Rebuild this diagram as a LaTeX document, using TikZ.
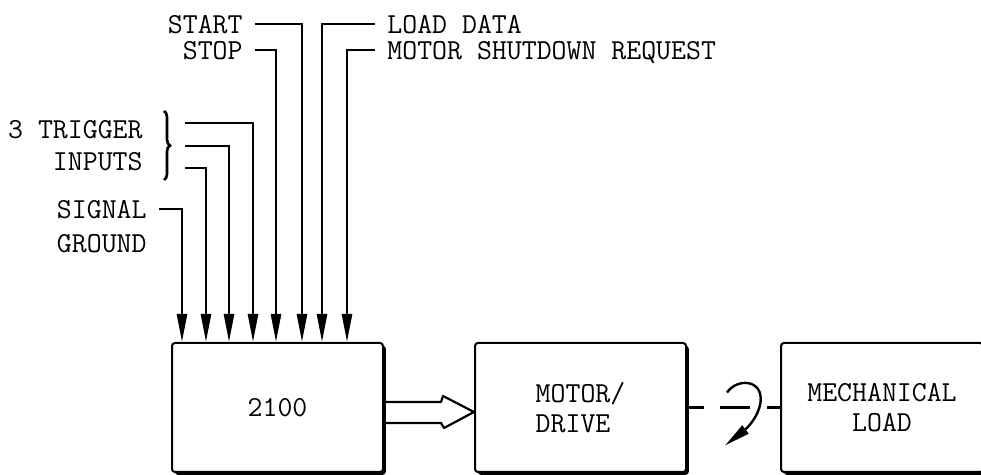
\documentclass[tikz,border=0pt]{standalone}
\usetikzlibrary{arrows.meta,positioning,shadows,calc,decorations.pathreplacing}
\newcommand{\tyfont}{\fontsize{14.5}{15}\selectfont\ttfamily}

\begin{document}
\begin{tikzpicture}[x=0.5pt,y=-0.5pt,
    blk/.style={draw,line width=1pt,fill=white,rounded corners=1.5pt,
      minimum width=105.5pt,minimum height=64.5pt,font=\tyfont,
      drop shadow={shadow xshift=1.4pt,shadow yshift=-1.4pt,opacity=1,fill=black}},
    lbl/.style={font=\tyfont,inner xsep=6pt,inner ysep=0pt,text depth=0pt},
    wire/.style={line width=1.3pt},
    sig/.style={wire,-{Triangle[length=14pt,width=5pt]}}]
  \useasboundingbox (0,0) rectangle (981,475);

  % blocks
  \node[blk] (ctrl) at (277.5,407.5) {2100};
  \node[blk,align=left,right=45pt of ctrl] (motor) {MOTOR/\\DRIVE};
  \node[blk,align=center,minimum width=101pt,right=46.5pt of motor] (mech) {MECHANICAL\\LOAD};

  % entry points on top of the 2100
  \foreach \nm/\px in {gnd/11,tc/35,tb/58,ta/82,stop/105,start/131,load/151,shut/176}
    \coordinate (in-\nm) at ($(ctrl.north west)+(\px,0)$);

  % labels
  \node[lbl,anchor=east] (start) at (255,24) {START};
  \node[lbl,anchor=east] (stop) at (255,50) {STOP};
  \node[lbl,anchor=west] (load) at (375,24) {LOAD DATA};
  \node[lbl,anchor=west] (shut) at (375,50) {MOTOR SHUTDOWN REQUEST};
  \node[lbl,anchor=east] (trig) at (155,129) {3 TRIGGER};
  \node[lbl,anchor=east] (inp) at (155,161) {INPUTS};
  \node[lbl,anchor=east] (gnd) at (159,209) {SIGNAL};
  \node[lbl,anchor=east] (gnd2) at (159,243) {GROUND};

  % brace and trigger lines
  \coordinate (br-top) at (164,111);
  \coordinate (br-bot) at (164,180);
  \draw[wire,decorate,decoration={brace,amplitude=3pt}] (br-top) -- (br-bot);
  \foreach \i/\y/\nm in {1/123/ta,2/146/tb,3/168/tc}{
    \coordinate (tg\i) at (185,\y);
    \draw[sig] (tg\i) -| (in-\nm);
  }

  % inputs
  \draw[sig] (gnd.east) -| (in-gnd);
  \draw[sig] (stop.east) -| (in-stop);
  \draw[sig] (start.east) -| (in-start);
  \draw[sig] (load.west) -| (in-load);
  \draw[sig] (shut.west) -| (in-shut);

  % hollow arrow
  \draw[line width=1.1pt,line join=round] ($(ctrl.east)+(0,-5.5)$) -- ++(57,0) -- ++(2,-6)
    -- ($(motor.west)+(0,4.5)$) -- ++(-30,16) -- ++(-3,-5) -- ($(ctrl.east)+(0,15.5)$);

  % shaft with rotation arrow
  \coordinate (rot) at ($(motor.east)!0.5!(mech.west)$);
  \draw[wire] (motor.east) -- ++(17,0);
  \draw[wire] ($(rot)+(-13.5,0)$) -- ++(30,0);
  \draw[wire] (mech.west) -- ++(-13,0);
  \begin{scope}[shift={(rot)}]
    \draw[line width=1.2pt,-{Triangle[length=13pt,width=5pt]}] (-6.5,-15)
      .. controls (4,-30) and (30,-28) .. (27,-5)
      .. controls (25,10) and (12,22) .. (-8.5,38);
  \end{scope}
\end{tikzpicture}
\end{document}
